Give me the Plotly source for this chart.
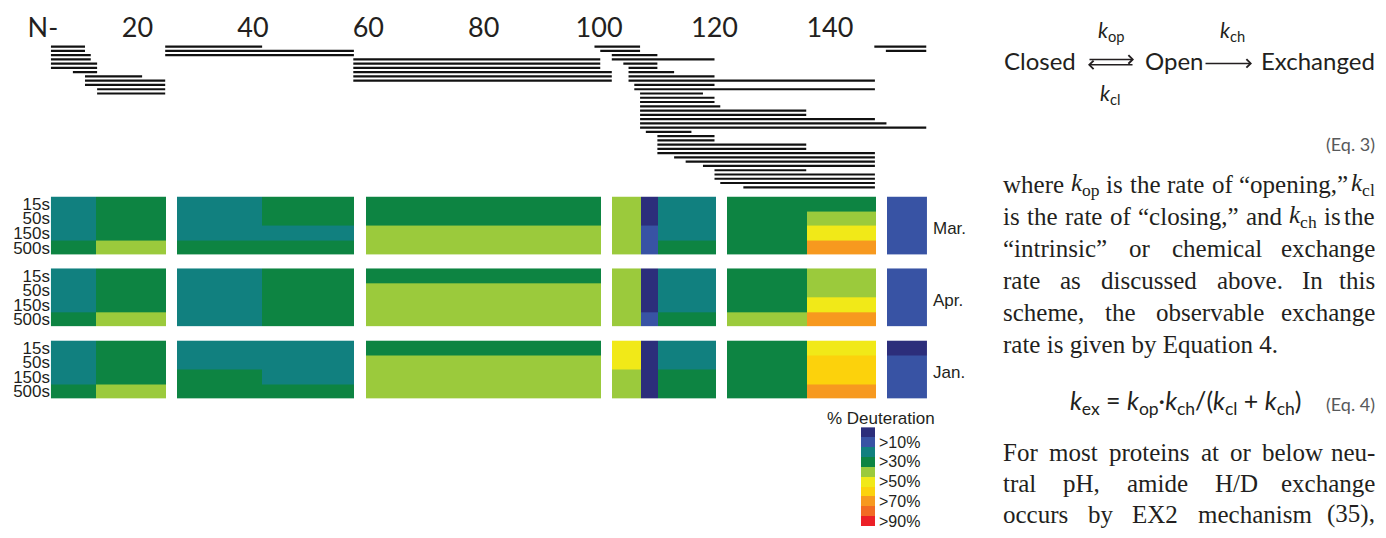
import plotly.graph_objects as go

OFF = 8                                 # page body margin: figure origin sits at (8, 8)
W, H = 1386 - 2 * OFF, 538 - 2 * OFF    # figure + body margins fit the window (no scrollbars)


def px(x):
    return (x - OFF) / W


def py(y):
    return 1 - (y - OFF) / H


# ---------------- data ----------------
tick_vals = [3.6, 20, 40, 60, 80, 100, 120, 140]
tick_text = ["N-", "20", "40", "60", "80", "100", "120", "140"]

# peptide coverage: start / end residue and stacking row
pep_start = [5.0, 5.0, 5.0, 5.0, 5.0, 5.0, 8.8, 10.9, 10.9, 10.9, 13.0, 13.0,
             24.8, 24.8, 24.8,
             57.4, 57.4, 57.4, 57.4, 57.4, 57.4,
             99.2, 100.2, 102.2, 102.2, 104.2, 105.1, 105.1, 105.1, 105.1, 106.1,
             106.1, 107.1, 107.1, 107.1, 107.1, 107.1, 107.1, 107.1, 107.1, 107.1,
             108.1, 110.1, 110.1, 110.1, 110.1, 110.1, 113.0, 115.0, 118.0, 120.0,
             120.0, 120.0, 121.0, 125.0,
             147.7, 149.7]
pep_end = [10.9, 10.9, 11.9, 11.9, 13.0, 13.0, 13.0, 20.8, 24.8, 24.8, 24.8, 24.8,
           41.6, 57.5, 57.5,
           100.2, 100.2, 100.2, 102.2, 102.2, 102.2,
           107.1, 107.1, 110.1, 120.0, 110.1, 110.1, 113.0, 120.0, 147.8, 120.0,
           147.8, 118.0, 120.0, 120.0, 121.0, 135.9, 135.9, 147.8, 149.8, 156.7,
           116.0, 120.0, 120.0, 135.9, 135.9, 147.8, 147.8, 147.8, 147.8, 135.9,
           147.8, 147.8, 147.8, 147.8,
           156.7, 156.7]
pep_row = [0, 1, 2, 3, 4, 5, 6, 7, 8, 9, 10, 11,
           0, 1, 2,
           3, 4, 5, 6, 7, 8,
           0, 1, 2, 3, 4, 5, 6, 7, 8, 9,
           10, 11, 12, 13, 14, 15, 16, 17, 18, 19,
           20, 21, 22, 23, 24, 25, 26, 27, 28, 29,
           30, 31, 32, 33,
           0, 1]

# heat-map segments (residue edges)
seg_start = [5.0, 12.8, 26.8, 41.6, 59.6, 102.2, 107.3, 110.2, 122.2, 136.1, 149.9]
seg_end = [12.8, 24.9, 41.6, 57.5, 100.3, 107.3, 110.2, 120.3, 136.1, 148.0, 156.8]
time_labels = ["15s", "50s", "150s", "500s"]
sample_names = ["Mar.", "Apr.", "Jan."]

# % deuteration per time point (rows) and segment (columns)
deut_mar = [[25, 35, 25, 35, 35, 45, 5, 25, 35, 35, 15],
            [25, 35, 25, 35, 35, 45, 5, 25, 35, 45, 15],
            [25, 35, 25, 25, 45, 45, 15, 25, 35, 55, 15],
            [35, 45, 35, 35, 45, 45, 15, 35, 35, 75, 15]]
deut_apr = [[25, 35, 25, 35, 35, 45, 5, 25, 35, 45, 15],
            [25, 35, 25, 35, 45, 45, 5, 25, 35, 45, 15],
            [25, 35, 25, 35, 45, 45, 5, 25, 35, 55, 15],
            [35, 45, 25, 35, 45, 45, 15, 35, 45, 75, 15]]
deut_jan = [[25, 35, 25, 25, 35, 55, 5, 25, 35, 55, 5],
            [25, 35, 25, 25, 45, 55, 5, 25, 35, 65, 15],
            [25, 35, 35, 25, 45, 45, 5, 35, 35, 65, 15],
            [35, 45, 35, 35, 45, 45, 5, 35, 35, 75, 15]]

legend_values = [5, 15, 25, 35, 45, 55, 65, 75, 85, 95]
legend_tick_vals = [15, 35, 55, 75, 95]
legend_tick_text = [">10%", ">30%", ">50%", ">70%", ">90%"]
bin_colors = ["#2c2e7b", "#3853a4", "#11807f", "#0d8442", "#9bca3c",
              "#f1e918", "#fcd20c", "#f7991f", "#f26b24", "#ec2027"]

# ---------------- layout constants ----------------
TXT = "#231f20"
GREY = "#58595b"
RES0_PX, PX_PER_RES = 22.1, 5.77          # window pixel of residue 0, pixels per residue
X_RIGHT_PX = 945.3
X_RANGE = [(OFF - RES0_PX) / PX_PER_RES, (X_RIGHT_PX - RES0_PX) / PX_PER_RES]
X_DOMAIN = [0, px(X_RIGHT_PX)]

colorscale = []
for i, c in enumerate(bin_colors):
    colorscale.append([i / len(bin_colors), c])
    colorscale.append([(i + 1) / len(bin_colors), c])

fig = go.Figure()

# peptide lines
lx, ly = [], []
for s, e, r in zip(pep_start, pep_end, pep_row):
    lx += [s, e, None]
    ly += [r, r, None]
fig.add_trace(go.Scatter(x=lx, y=ly, mode="lines", line=dict(color="#111111", width=2.2),
                         xaxis="x", yaxis="y", hoverinfo="skip", showlegend=False))

# heat-map bricks (gap columns left empty)
edges = [seg_start[0]]
col_idx = []
for i in range(len(seg_start)):
    if i > 0 and seg_start[i] > seg_end[i - 1] + 1e-9:
        edges.append(seg_start[i])
        col_idx.append(None)
    edges.append(seg_end[i])
    col_idx.append(i)

block_tops = [196.7, 269.3, 342.3]
block_h = 59.0
for k, (name, data) in enumerate(zip(sample_names, [deut_mar, deut_apr, deut_jan])):
    z = [[row[c] if c is not None else None for c in col_idx] for row in data]
    yname = "y%d" % (k + 2)
    fig.add_trace(go.Heatmap(x=edges, y=[0, 1, 2, 3, 4], z=z, zmin=0, zmax=100,
                             colorscale=colorscale, showscale=False, hoverongaps=False,
                             xaxis="x", yaxis=yname))
    top = block_tops[k]
    fig.layout["yaxis%d" % (k + 2)] = dict(
        domain=[py(top + block_h), py(top)], range=[4, 0], anchor="free", position=px(51),
        tickvals=[0.5, 1.5, 2.5, 3.5], ticktext=time_labels, ticks="", showgrid=False,
        zeroline=False, showline=False, tickfont=dict(family="Liberation Sans", size=17, color=TXT),
        ticklabelstandoff=1, ticklabeloverflow="allow")
    fig.add_annotation(x=px(931), y=py(top + block_h / 2 + 3), xref="paper", yref="paper",
                       text=name, showarrow=False, xanchor="left", yanchor="middle",
                       font=dict(family="Liberation Sans", size=17, color=TXT))

# legend
fig.add_trace(go.Heatmap(x=[0], y=legend_values, z=[[v] for v in legend_values], zmin=0, zmax=100,
                         colorscale=colorscale, showscale=False, xaxis="x2", yaxis="y5",
                         hoverinfo="skip"))
fig.add_annotation(x=px(881), y=py(421), xref="paper", yref="paper", text="% Deuteration",
                   showarrow=False, xanchor="center", yanchor="middle",
                   font=dict(family="Liberation Sans", size=17, color=TXT))

fig.update_layout(
    width=W, height=H, margin=dict(l=0, r=0, t=0, b=0),
    paper_bgcolor="white", plot_bgcolor="white", showlegend=False,
    xaxis=dict(domain=X_DOMAIN, range=X_RANGE, anchor="y", side="top",
               tickvals=tick_vals, ticktext=tick_text, ticks="", showgrid=False,
               zeroline=False, showline=False, ticklabeloverflow="allow",
               tickfont=dict(family="Lato", size=27, color=TXT)),
    yaxis=dict(domain=[py(189.5), py(42)], range=[33.5, -0.7], visible=False),
    xaxis2=dict(domain=[px(861), px(875)], range=[-0.5, 0.5], anchor="y5", visible=False),
    yaxis5=dict(domain=[0, py(430)], range=[100, 0], anchor="x2", side="right",
                tickvals=legend_tick_vals, ticktext=legend_tick_text, ticks="",
                showgrid=False, zeroline=False, showline=False, ticklabelstandoff=3,
                ticklabeloverflow="allow",
                tickfont=dict(family="Liberation Sans", size=16, color=TXT)),
)

# ---------------- right-hand text ----------------
SCHEME_FONT = "Lato"


def ann(x, y, text, size, family, color=TXT, xanchor="left", yanchor="middle"):
    fig.add_annotation(x=px(x), y=py(y), xref="paper", yref="paper", text=text,
                       showarrow=False, xanchor=xanchor, yanchor=yanchor,
                       font=dict(family=family, size=size, color=color))


# scheme (Eq. 3)
ann(1002, 68 - 0.387 * 24, "Closed", 24, SCHEME_FONT)
ann(1143, 68 - 0.387 * 24, "Open", 24, SCHEME_FONT)
ann(1377, 68 - 0.387 * 24, "Exchanged", 24, SCHEME_FONT, xanchor="right")
ann(1111, 37 - 0.387 * 21, "<i>k</i><sub>op</sub>", 21, SCHEME_FONT, xanchor="center")
ann(1232, 37 - 0.387 * 21, "<i>k</i><sub>ch</sub>", 21, SCHEME_FONT, xanchor="center")
ann(1110, 101 - 0.387 * 21, "<i>k</i><sub>cl</sub>", 21, SCHEME_FONT, xanchor="center")
for (hx, hy, dx) in [(1134, 58, -46), (1088, 63.5, 46), (1252, 62, -48)]:
    fig.add_annotation(x=px(hx), y=py(hy), xref="paper", yref="paper", ax=dx, ay=0,
                       axref="pixel", ayref="pixel", text="", showarrow=True,
                       arrowhead=4, arrowsize=1.1, arrowwidth=1.5, arrowcolor=TXT)
ann(1377, 151 - 0.387 * 18, "(Eq. 3)", 18, SCHEME_FONT, color=GREY, xanchor="right")

# paragraph (justified serif text)
CW = {" ": 250, ",": 250, ".": 250, "-": 333, "/": 278, "(": 333, ")": 333, "“": 444, "”": 444,
      "0": 500, "1": 500, "2": 500, "3": 500, "4": 500, "5": 500, "6": 500, "7": 500, "8": 500, "9": 500,
      "A": 722, "D": 722, "E": 611, "F": 556, "H": 722, "I": 333, "X": 722,
      "a": 444, "b": 500, "c": 444, "d": 500, "e": 444, "f": 333, "g": 500, "h": 500, "i": 278,
      "k": 444, "l": 278, "m": 778, "n": 500, "o": 500, "p": 500, "q": 500, "r": 333, "s": 389,
      "t": 278, "u": 500, "v": 500, "w": 722, "x": 500, "y": 500}


def est_width(html, size):
    w, i, sub = 0.0, 0, False
    while i < len(html):
        if html[i] == "<":
            j = html.index(">", i)
            tag = html[i + 1:j]
            if tag == "sub":
                sub = True
            elif tag == "/sub":
                sub = False
            i = j + 1
            continue
        w += CW.get(html[i], 500) / 1000 * size * (0.7 if sub else 1)
        i += 1
    return w


P_FONT = "Liberation Serif"
P_SIZE = 25
LEFT, RIGHT = 1001, 1377
para_lines = [
    (193, ["where", "<i>k</i><sub>op</sub>", "is", "the", "rate", "of", "“opening,”", "<i>k</i><sub>cl</sub>"], True),
    (225.4, ["is", "the", "rate", "of", "“closing,”", "and", "<i>k</i><sub>ch</sub>", "is", "the"], True),
    (257.8, ["“intrinsic”", "or", "chemical", "exchange"], True),
    (290.2, ["rate", "as", "discussed", "above.", "In", "this"], True),
    (322.6, ["scheme,", "the", "observable", "exchange"], True),
    (355, ["rate is given by Equation 4."], False),
    (464.5, ["For", "most", "proteins", "at", "or", "below", "neu-"], True),
    (495.5, ["tral", "pH,", "amide", "H/D", "exchange"], True),
    (526.5, ["occurs", "by", "EX2", "mechanism", "(35),"], True),
]
for base, words, just in para_lines:
    yc = base - 0.3375 * P_SIZE
    if not just:
        ann(LEFT, yc, words[0], P_SIZE, P_FONT)
        continue
    widths = [est_width(wd, P_SIZE) for wd in words]
    gap = (RIGHT - LEFT - sum(widths)) / (len(words) - 1)
    x = LEFT
    for n, (wd, wdt) in enumerate(zip(words, widths)):
        if n == len(words) - 1:
            ann(RIGHT, yc, wd, P_SIZE, P_FONT, xanchor="right")
        else:
            ann(x, yc, wd, P_SIZE, P_FONT)
        x += wdt + gap

# Eq. 4
ann(1068, 414 - 0.387 * 25,
    "<i>k</i><sub>ex</sub> = <i>k</i><sub>op</sub>·<i>k</i><sub>ch</sub>/(<i>k</i><sub>cl</sub> + <i>k</i><sub>ch</sub>)",
    25, SCHEME_FONT)
ann(1377, 414 - 0.387 * 18, "(Eq. 4)", 18, SCHEME_FONT, color=GREY, xanchor="right")

fig.write_html("out.html")
